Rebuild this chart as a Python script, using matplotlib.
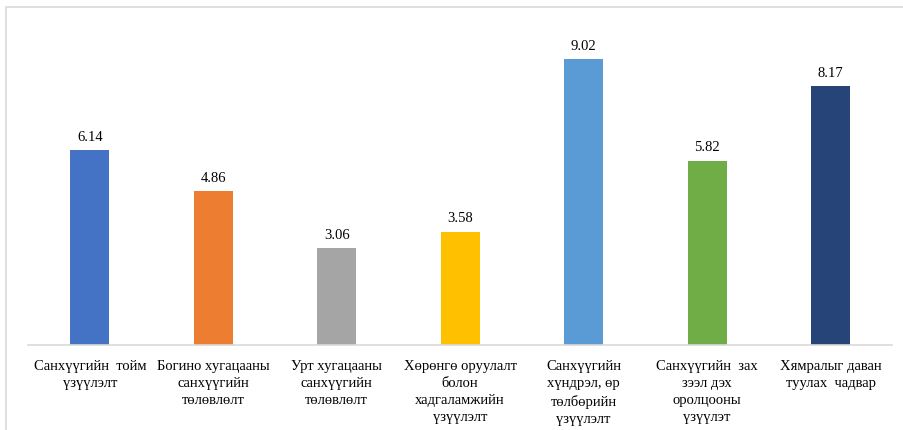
import matplotlib.pyplot as plt
from matplotlib.patches import Rectangle

# chart data
categories = [
    "Санхүүгийн  тойм\nүзүүлэлт",
    "Богино хугацааны\nсанхүүгийн\nтөлөвлөлт",
    "Урт хугацааны\nсанхүүгийн\nтөлөвлөлт",
    "Хөрөнгө оруулалт\nболон\nхадгаламжийн\nүзүүлэлт",
    "Санхүүгийн\nхүндрэл, өр\nтөлбөрийн\nүзүүлэлт",
    "Санхүүгийн  зах\nзээл дэх\nоролцооны\nүзүүлэт",
    "Хямралыг даван\nтуулах  чадвар",
]
values = [6.14, 4.86, 3.06, 3.58, 9.02, 5.82, 8.17]
colors = ["#4472C4", "#ED7D31", "#A5A5A5", "#FFC000", "#5B9BD5", "#70AD47", "#264478"]

plt.rcParams['font.family'] = ['Liberation Serif', 'DejaVu Serif']

fig = plt.figure(figsize=(9.04, 4.30), dpi=100)
ax = fig.add_axes([0.031, 0.1977, 0.956, 0.737])

# chart frame
fig.patches.append(Rectangle((6.5 / 904, -0.1), 1.2, (430 - 7) / 430 + 0.1,
                             transform=fig.transFigure, fill=False,
                             edgecolor="#D9D9D9", linewidth=1.2))

x = range(len(values))
bars = ax.bar(x, values, width=0.315, color=colors, zorder=2)
for xi, v in zip(x, values):
    ax.text(xi, v + 0.2, f"{v:.2f}", ha="center", va="bottom", fontsize=10.5)

ax.set_xlim(-0.5, len(values) - 0.5)
ax.set_ylim(0, 10)
ax.set_yticks([])
ax.set_xticks(list(x))
ax.set_xticklabels(categories, fontsize=10.5, linespacing=1.4, va="top")
ax.tick_params(axis="x", length=0, pad=11)
for s in ["top", "right", "left"]:
    ax.spines[s].set_visible(False)
ax.spines["bottom"].set_color("#D9D9D9")
ax.spines["bottom"].set_linewidth(1.2)

fig.savefig("out.png", dpi=100)
